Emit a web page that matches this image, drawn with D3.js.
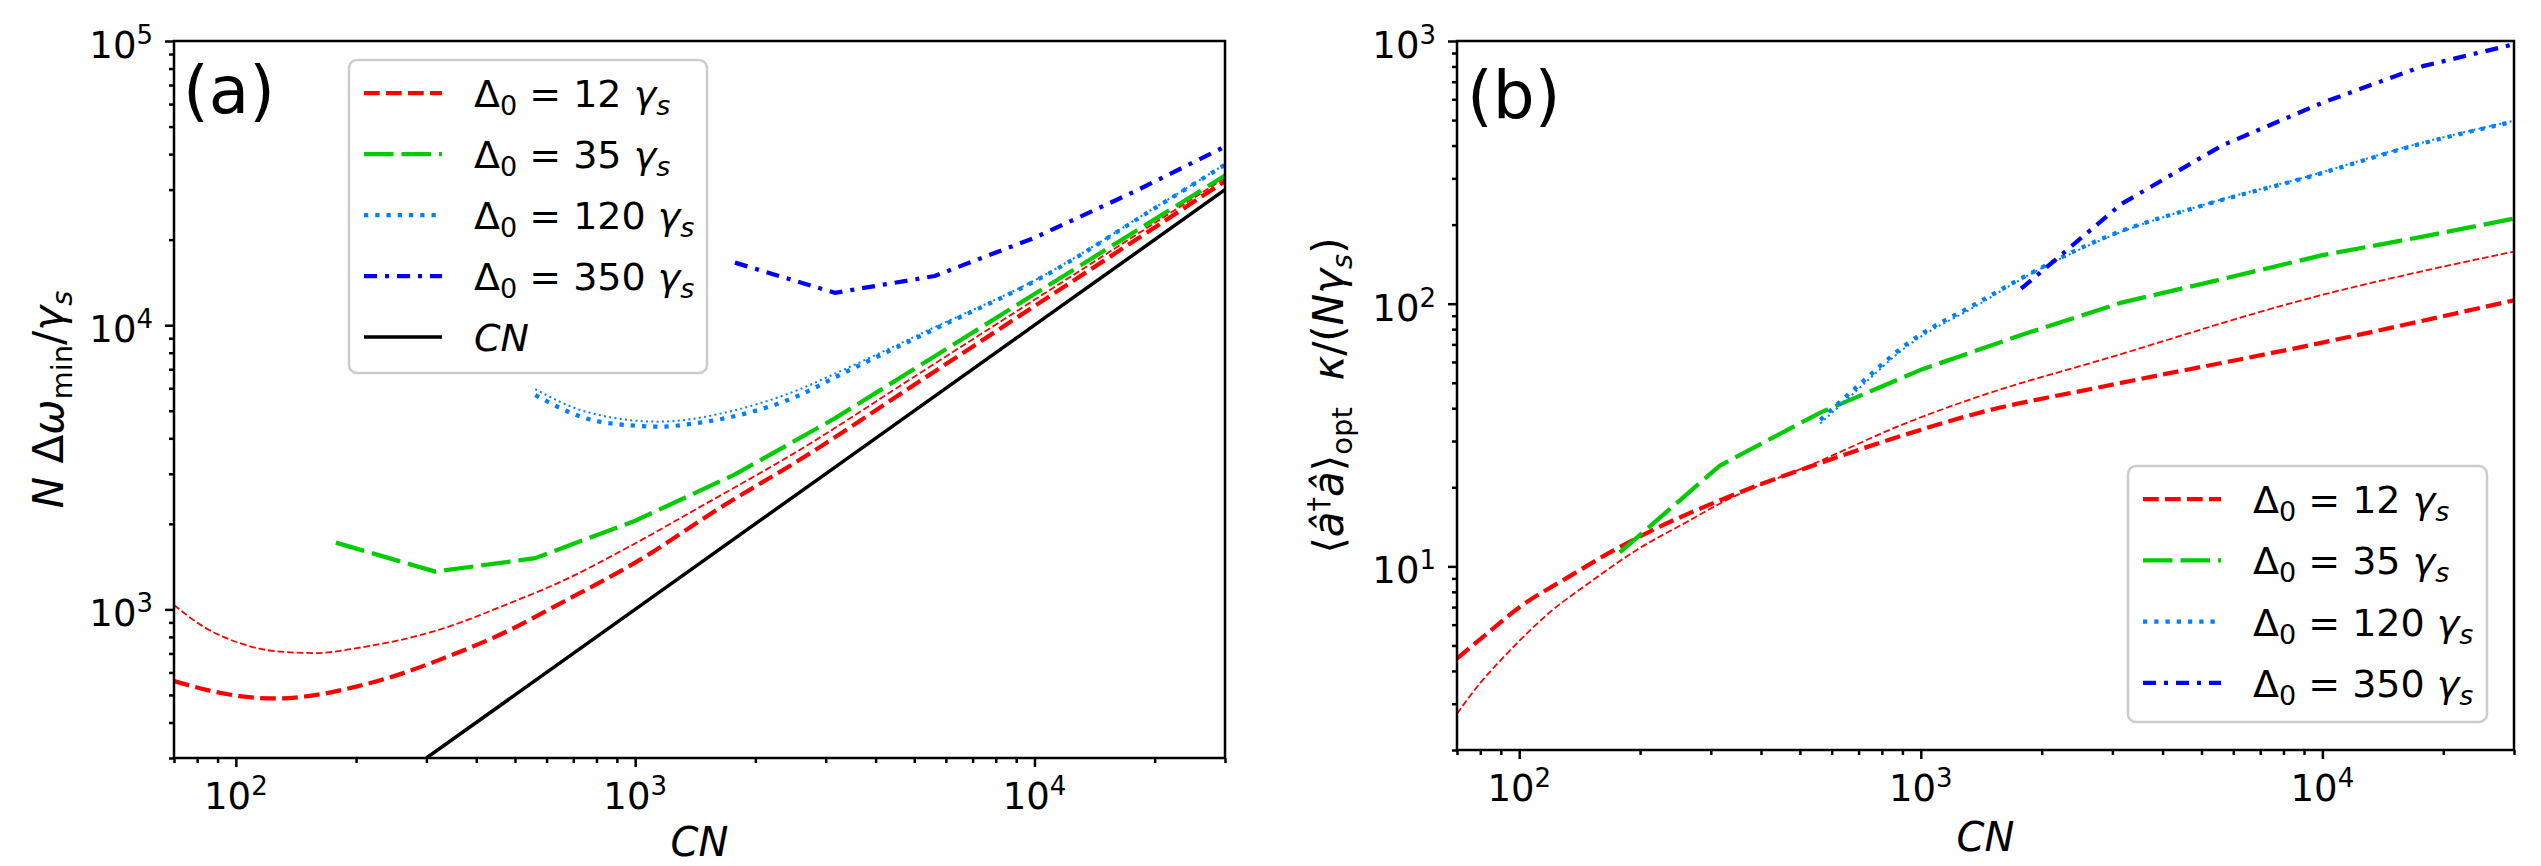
<!DOCTYPE html>
<html>
<head>
<meta charset="utf-8">
<script src="https://cdn.jsdelivr.net/npm/d3@7"></script>
<style>
  body { margin: 0; background: #fff; }
  svg text { font-family: "DejaVu Sans", sans-serif; fill: #000; }
</style>
</head>
<body>
<div id="chart"></div>
<script>
/* Two log-log panels: (a) N Δω_min / γs and (b) <a†a>_opt κ/(Nγs) vs CN */

// ---- data ----
const deltaVals = ["12", "35", "120", "350"];
const cnVals = [300, 1000, 3000, 10000, 30000];

// panel (a)
const aRedX = [70, 85, 105, 126, 159, 200, 240, 322, 486, 652, 1000, 1672, 2582, 5000, 10000, 20000, 30000];
const aRedY = [560, 520, 493, 486, 500, 535, 573, 663, 847, 1053, 1460, 2327, 3360, 6170, 11670, 22080, 32100];
const aRedThinX = [70, 83, 102, 129, 159, 201, 322, 486, 652, 984, 1451, 2582, 5000, 10000, 20000, 30000];
const aRedThinY = [1036, 869, 762, 710, 702, 731, 847, 1053, 1252, 1686, 2290, 3640, 6590, 12280, 22900, 33000];
const aGreenX = [178, 316, 562, 1000, 1778, 3162, 5623, 10000, 17783, 30000];
const aGreenY = [1718, 1358, 1515, 2050, 2985, 4700, 7780, 12870, 21290, 33600];
const aBlueX = [562, 750, 1000, 1140, 1450, 1825, 2582, 3162, 5460, 10590, 20000, 30000];
const aBlueY = [5675, 4710, 4430, 4395, 4540, 4830, 5675, 6550, 9500, 14900, 25800, 36700];
const aBlueThinX = [562, 750, 1140, 1825, 2582, 3162, 5460, 10590, 20000, 30000];
const aBlueThinY = [5960, 4970, 4577, 5070, 5950, 6750, 9650, 15000, 25900, 36800];
const aNavyX = [1778, 3162, 5623, 10000, 17783, 30000];
const aNavyY = [16600, 13000, 14900, 20300, 29500, 42500];

// panel (b)
const bRedX = [70, 85, 99, 134, 170, 212, 329, 577, 889, 1405, 2869, 9262, 30000];
const bRedY = [4.46, 5.7, 6.9, 9.2, 11.4, 13.6, 18.3, 25.1, 31.3, 38.5, 48.5, 69.4, 103];
const bRedThinX = [70, 80, 90, 100, 118, 150, 197, 260, 329, 548, 889, 1405, 2869, 9262, 30000];
const bRedThinY = [2.75, 3.6, 4.4, 5.2, 6.6, 8.7, 11.6, 14.7, 17.9, 24.8, 34.4, 44.5, 61.6, 104.8, 158];
const bGreenX = [178, 316, 562, 1000, 1778, 3162, 5623, 10000, 17783, 30000];
const bGreenY = [11.3, 24.2, 38.5, 56, 76, 101, 124, 153, 180, 211];
const bBlueX = [562, 706, 914, 1405, 1713, 2869, 5150, 9262, 16640, 30000];
const bBlueY = [36.1, 49.5, 69.5, 102, 121, 178.5, 239, 304, 397, 494];
const bBlueThinX = [562, 706, 914, 1405, 1713, 2869, 5150, 9262, 16640, 30000];
const bBlueThinY = [35, 48, 68, 100, 120, 177, 240, 306, 400, 497];
const bNavyX = [1778, 3162, 5623, 10000, 17783, 30000];
const bNavyY = [114, 240, 400, 582, 802, 972];

const xMajor = [100, 1000, 10000];
const aYMajor = [1000, 10000, 100000];
const bYMajor = [10, 100, 1000];

// ---- line styles ----
const sRed = { color: "#ff0000", w: 4.25, dash: "15.7,6.3" };
const sRedThin = { color: "#ff0000", w: 1.8, dash: "6.7,2.9" };
const sGreen = { color: "#00cc00", w: 4.25, dash: "29.5,8" };
const sBlue = { color: "#0080ff", w: 4.25, dash: "4.25,7" };
const sBlueThin = { color: "#0080ff", w: 2, dash: "2,3.3" };
const sNavy = { color: "#0000ff", w: 4.25, dash: "13,8,4,8" };
const sCN = { color: "#000000", w: 3.5, dash: null };

const width = 2541, height = 866;

const svg = d3.select("#chart")
    .append("svg")
    .attr("width", width)
    .attr("height", height)
    .attr("viewBox", [0, 0, width, height]);

// series: [x values, y values, style, smooth?]
const panels = [
    {
        id: "a", box: { l: 174, r: 1225, t: 41, b: 758 },
        yDomain: [300, 1e5], yMajor: aYMajor,
        series: [
            [aRedX, aRedY, sRed, true], [aRedThinX, aRedThinY, sRedThin, true],
            [aGreenX, aGreenY, sGreen, false],
            [aBlueX, aBlueY, sBlue, true], [aBlueThinX, aBlueThinY, sBlueThin, true],
            [aNavyX, aNavyY, sNavy, false], [cnVals, cnVals, sCN, false]
        ],
        letter: { x: 183, y: 113, t: "(a)" },
        ylabX: 63, xlabY: 856,
        legend: { x: 349, y: 60, w: 358, h: 313, row0: 93, step: 61,
                  items: [sRed, sGreen, sBlue, sNavy, sCN] }
    },
    {
        id: "b", box: { l: 1457, r: 2514, t: 41, b: 750 },
        yDomain: [2, 1000], yMajor: bYMajor,
        series: [
            [bRedX, bRedY, sRed, true], [bRedThinX, bRedThinY, sRedThin, true],
            [bGreenX, bGreenY, sGreen, false],
            [bBlueX, bBlueY, sBlue, true], [bBlueThinX, bBlueThinY, sBlueThin, true],
            [bNavyX, bNavyY, sNavy, false]
        ],
        letter: { x: 1467, y: 118, t: "(b)" },
        ylabX: 1343, xlabY: 851,
        legend: { x: 2128, y: 466, w: 359, h: 256, row0: 499, step: 61.3,
                  items: [sRed, sGreen, sBlue, sNavy] }
    }
];

function pow10(sel, v) {
    sel.append("tspan").text("10");
    sel.append("tspan").attr("font-size", 26).attr("dy", -14).text(Math.round(Math.log10(v)));
}

function deltaText(sel, val) {
    sel.append("tspan").text("Δ");
    sel.append("tspan").attr("font-size", 27).attr("dy", 8).text("0");
    sel.append("tspan").attr("dy", -8).text("\u00a0=\u00a0" + val + "\u00a0");
    sel.append("tspan").attr("font-style", "italic").text("γ");
    sel.append("tspan").attr("font-style", "italic").attr("font-size", 27).attr("dy", 8).text("s");
}

for (const p of panels) {
    const { l, r, t, b } = p.box;
    const g = svg.append("g").attr("class", "panel-" + p.id);

    let x = d3.scaleLog().domain([70, 30000]).range([l, r]);
    let y = d3.scaleLog().domain(p.yDomain).range([b, t]);

    g.append("clipPath").attr("id", "clip-" + p.id)
        .append("rect").attr("x", l).attr("y", t).attr("width", r - l).attr("height", b - t);

    // ticks (major + minor), outward like matplotlib
    const xMinor = x.ticks().filter(v => !xMajor.includes(v));
    const yMinor = y.ticks().filter(v => !p.yMajor.includes(v));

    const axes = [
        [d3.axisBottom(x).tickValues(xMajor).tickSize(9), `translate(0,${b})`],
        [d3.axisBottom(x).tickValues(xMinor).tickSize(5), `translate(0,${b})`],
        [d3.axisLeft(y).tickValues(p.yMajor).tickSize(9), `translate(${l},0)`],
        [d3.axisLeft(y).tickValues(yMinor).tickSize(5), `translate(${l},0)`]
    ];
    for (const [ax, tr] of axes) {
        const ga = g.append("g").attr("transform", tr)
            .call(ax.tickFormat("").tickSizeOuter(0));
        ga.select(".domain").remove();
        ga.selectAll("line").attr("stroke", "#000").attr("stroke-width", 2.5);
    }

    // tick labels
    for (const v of xMajor) {
        g.append("text").attr("x", x(v)).attr("y", b + 51)
            .attr("text-anchor", "middle").attr("font-size", 37)
            .call(pow10, v);
    }
    for (const v of p.yMajor) {
        g.append("text").attr("x", l - 21).attr("y", y(v) + 17)
            .attr("text-anchor", "end").attr("font-size", 37)
            .call(pow10, v);
    }

    // curves
    const straight = d3.line().x(d => x(d[0])).y(d => y(d[1]));
    const smooth = d3.line().x(d => x(d[0])).y(d => y(d[1])).curve(d3.curveMonotoneX);
    const lines = g.append("g").attr("clip-path", `url(#clip-${p.id})`);
    for (const [xs, ys, s, sm] of p.series) {
        lines.append("path")
            .attr("d", (sm ? smooth : straight)(d3.zip(xs, ys)))
            .attr("fill", "none")
            .attr("stroke", s.color)
            .attr("stroke-width", s.w)
            .attr("stroke-dasharray", s.dash)
            .attr("stroke-linejoin", "round");
    }

    // frame
    g.append("rect").attr("x", l).attr("y", t).attr("width", r - l).attr("height", b - t)
        .attr("fill", "none").attr("stroke", "#000").attr("stroke-width", 2.5);

    // panel letter
    g.append("text").attr("x", p.letter.x).attr("y", p.letter.y)
        .attr("font-size", 66).text(p.letter.t);

    // x label
    g.append("text").attr("x", (l + r) / 2).attr("y", p.xlabY)
        .attr("text-anchor", "middle").attr("font-size", 40)
        .attr("font-style", "italic").text("CN");

    // y label
    const yl = g.append("text")
        .attr("transform", `translate(${p.ylabX},${(t + b) / 2}) rotate(-90)`)
        .attr("text-anchor", "middle").attr("font-size", 42);
    if (p.id === "a") {
        yl.append("tspan").attr("font-style", "italic").text("N");
        yl.append("tspan").text("\u00a0Δ");
        yl.append("tspan").attr("font-style", "italic").text("ω");
        yl.append("tspan").attr("font-size", 29).attr("dy", 9).text("min");
        yl.append("tspan").attr("dy", -9).text("/");
        yl.append("tspan").attr("font-style", "italic").text("γ");
        yl.append("tspan").attr("font-style", "italic").attr("font-size", 29).attr("dy", 9).text("s");
    } else {
        yl.append("tspan").text("⟨");
        yl.append("tspan").attr("font-style", "italic").text("a\u0302");
        yl.append("tspan").attr("font-size", 29).attr("dy", -15).text("†");
        yl.append("tspan").attr("font-style", "italic").attr("dy", 15).text("a\u0302");
        yl.append("tspan").text("⟩");
        yl.append("tspan").attr("font-size", 29).attr("dy", 9).text("opt");
        yl.append("tspan").attr("dy", -9).text("\u00a0\u00a0");
        yl.append("tspan").attr("font-style", "italic").text("κ");
        yl.append("tspan").text("/(");
        yl.append("tspan").attr("font-style", "italic").text("Nγ");
        yl.append("tspan").attr("font-style", "italic").attr("font-size", 29).attr("dy", 9).text("s");
        yl.append("tspan").attr("dy", -9).text(")");
    }

    // legend
    const lg = p.legend;
    const leg = g.append("g");
    leg.append("rect").attr("x", lg.x).attr("y", lg.y).attr("width", lg.w).attr("height", lg.h)
        .attr("rx", 8).attr("fill", "#fff").attr("fill-opacity", 0.8)
        .attr("stroke", "#cccccc").attr("stroke-width", 2.5);
    lg.items.forEach((s, i) => {
        const cy = lg.row0 + i * lg.step;
        leg.append("line")
            .attr("x1", lg.x + 15).attr("x2", lg.x + 93)
            .attr("y1", cy).attr("y2", cy)
            .attr("stroke", s.color).attr("stroke-width", s.w)
            .attr("stroke-dasharray", s.dash);
        const tx = leg.append("text").attr("x", lg.x + 125).attr("y", cy + 14)
            .attr("font-size", 38);
        if (i < deltaVals.length) tx.call(deltaText, deltaVals[i]);
        else tx.attr("font-style", "italic").text("CN");
    });
}
</script>
</body>
</html>
